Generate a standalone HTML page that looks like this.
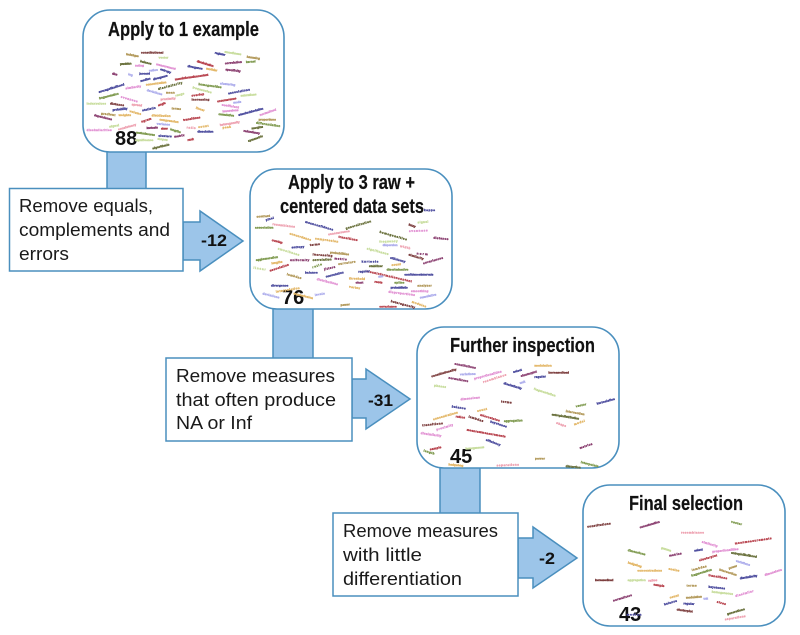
<!DOCTYPE html>
<html><head><meta charset="utf-8"><style>
html,body{margin:0;padding:0;background:#fff}
svg{display:block}
.p{fill:#fff;stroke:#4a8fbe;stroke-width:1.6}
.a{fill:#9cc5e9;stroke:#4a8fbe;stroke-width:1.5}
.x{fill:#fff;stroke:#4a8fbe;stroke-width:1.5}
.t{font:bold 20px "Liberation Sans",sans-serif;fill:#111;stroke:#111;stroke-width:.2}
.n{font:bold 20px "Liberation Sans",sans-serif;fill:#111}
.m{font:bold 17px "Liberation Sans",sans-serif;fill:#111}
.b{font:18.5px "Liberation Sans",sans-serif;fill:#1a1a1a}
.w{font:bold 9px "Liberation Sans",sans-serif;stroke-width:1.3}
.r{fill:#b8444f;stroke:#b8444f}.k{fill:#7d3f3f;stroke:#7d3f3f}.o{fill:#e3b768;stroke:#e3b768}.q{fill:#e294d4;stroke:#e294d4}
.g{fill:#7f9a50;stroke:#7f9a50}.l{fill:#aeaeec;stroke:#aeaeec}.v{fill:#4d4d9e;stroke:#4d4d9e}.u{fill:#8a3f70;stroke:#8a3f70}
.y{fill:#c8dd9e;stroke:#c8dd9e}.s{fill:#eea3b2;stroke:#eea3b2}.c{fill:#b39a5c;stroke:#b39a5c}.d{fill:#686f3a;stroke:#686f3a}
</style></head><body>
<svg xmlns="http://www.w3.org/2000/svg" width="800" height="635" viewBox="0 0 800 635">
<defs><filter id="f" x="0" y="0" width="1" height="1" filterUnits="objectBoundingBox"><feGaussianBlur stdDeviation="0.3"/></filter></defs>
<rect class="a" x="107" y="148" width="39" height="44"/>
<rect class="a" x="273" y="305" width="40" height="56"/>
<rect class="a" x="440" y="464" width="40" height="52"/>
<path class="a" d="M183 222H200V211L243 241L200 271V260H183Z"/>
<path class="a" d="M352 379H366V369L410 399L366 429V418H352Z"/>
<path class="a" d="M518 538H533V527L577 558L533 588V578H518Z"/>
<rect class="p" x="83" y="10" width="201" height="142" rx="27"/>
<rect class="p" x="250" y="169" width="202" height="140" rx="27"/>
<rect class="p" x="417" y="327" width="202" height="141" rx="27"/>
<rect class="p" x="583" y="485" width="202" height="141" rx="27"/>
<rect class="x" x="9.5" y="188.5" width="173.5" height="82.5"/>
<rect class="x" x="166" y="358" width="186" height="83"/>
<rect class="x" x="333" y="513" width="185" height="83"/>

<text class="n" x="115" y="145">88</text>
<text class="n" x="282" y="304">76</text>
<text class="n" x="450" y="463">45</text>
<text class="n" x="619" y="621">43</text>

<g filter="url(#f)">
<g class="w" transform="translate(80 0) scale(.3333)">
<text class="c" transform="translate(138 165)rotate(10)" textLength="38">technique</text>
<text class="k" transform="translate(183 160)" textLength="67">constitutional</text>
<text class="y" transform="translate(236 176)" textLength="29">vector</text>
<text class="d" transform="translate(120 195)rotate(-3)" textLength="35">precision</text>
<text class="q" transform="translate(165 200)" textLength="27">rating</text>
<text class="d" transform="translate(180 186)rotate(14)" textLength="35">balance</text>
<text class="q" transform="translate(228 195)rotate(14)" textLength="60">measurement</text>
<text class="v" transform="translate(322 201)rotate(10)" textLength="46">divergence</text>
<text class="o" transform="translate(378 208)rotate(11)" textLength="34">modular</text>
<text class="r" transform="translate(350 186)rotate(17)" textLength="52">discrimination</text>
<text class="v" transform="translate(404 161)rotate(12)" textLength="32">register</text>
<text class="y" transform="translate(433 158)rotate(9)" textLength="51">smoothness</text>
<text class="c" transform="translate(500 173)rotate(8)" textLength="40">hamming</text>
<text class="u" transform="translate(435 193)rotate(-5)" textLength="51">correlation</text>
<text class="g" transform="translate(498 189)rotate(-4)" textLength="29">kernel</text>
<text class="u" transform="translate(436 211)rotate(7)" textLength="46">specificity</text>
<text class="u" transform="translate(96 223)rotate(14)" textLength="16">dice</text>
<text class="l" transform="translate(144 225)rotate(16)" textLength="14">log</text>
<text class="v" transform="translate(178 223)" textLength="32">jaccard</text>
<text class="l" transform="translate(207 215)rotate(-6)" textLength="27">ratios</text>
<text class="v" transform="translate(240 210)rotate(18)" textLength="34">entropy</text>
<text class="v" transform="translate(182 246)rotate(-15)" textLength="31">median</text>
<text class="v" transform="translate(220 241)rotate(-15)" textLength="45">divergence</text>
<text class="r" transform="translate(285 241)rotate(-8)" textLength="101">meaninformationcontent</text>
<text class="q" transform="translate(137 268)rotate(-8)" textLength="47">similarity</text>
<text class="o" transform="translate(198 257)rotate(-7)" textLength="62">concentration</text>
<text class="d" transform="translate(235 270)rotate(-15)" textLength="75">dissimilarity</text>
<text class="g" transform="translate(355 255)rotate(8)" textLength="70">homogeneities</text>
<text class="l" transform="translate(420 253)rotate(6)" textLength="46">clustering</text>
<text class="v" transform="translate(57 279)rotate(-17)" textLength="80">averagelikelihood</text>
<text class="g" transform="translate(58 298)rotate(-14)" textLength="60">fragmentation</text>
<text class="q" transform="translate(122 293)rotate(16)" textLength="52">evenness</text>
<text class="l" transform="translate(200 273)rotate(16)" textLength="48">deviations</text>
<text class="c" transform="translate(258 281)" textLength="26">mean</text>
<text class="y" transform="translate(287 290)rotate(-15)" textLength="27">range</text>
<text class="y" transform="translate(337 265)rotate(15)" textLength="59">frequencies</text>
<text class="v" transform="translate(445 283)rotate(-10)" textLength="66">associations</text>
<text class="y" transform="translate(482 290)rotate(-5)" textLength="48">saturations</text>
<text class="r" transform="translate(335 290)rotate(-8)" textLength="38">overlap</text>
<text class="k" transform="translate(335 301)" textLength="53">increasing</text>
<text class="s" transform="translate(242 301)rotate(-4)" textLength="45">proximity</text>
<text class="r" transform="translate(412 307)rotate(-9)" textLength="58">cooccurrence</text>
<text class="l" transform="translate(460 311)rotate(-7)" textLength="24">mode</text>
<text class="y" transform="translate(20 314)" textLength="58">indexvalues</text>
<text class="k" transform="translate(90 313)rotate(8)" textLength="42">distance</text>
<text class="s" transform="translate(155 316)rotate(6)" textLength="31">spread</text>
<text class="r" transform="translate(235 319)rotate(-19)" textLength="24">angle</text>
<text class="c" transform="translate(275 328)rotate(4)" textLength="28">terms</text>
<text class="q" transform="translate(425 317)rotate(9)" textLength="52">coefficient</text>
<text class="v" transform="translate(98 333)rotate(-6)" textLength="45">probability</text>
<text class="v" transform="translate(187 334)rotate(-11)" textLength="41">statistic</text>
<text class="o" transform="translate(347 326)rotate(18)" textLength="27">linear</text>
<text class="q" transform="translate(428 337)rotate(-5)" textLength="48">inversions</text>
<text class="q" transform="translate(540 348)rotate(-19)" textLength="52">normalized</text>
<text class="u" transform="translate(42 348)rotate(14)" textLength="55">dependence</text>
<text class="c" transform="translate(63 343)rotate(7)" textLength="43">gradient</text>
<text class="o" transform="translate(116 348)" textLength="37">weights</text>
<text class="o" transform="translate(148 336)rotate(15)" textLength="36">volume</text>
<text class="g" transform="translate(415 345)rotate(6)" textLength="47">cumulative</text>
<text class="v" transform="translate(476 348)rotate(-15)" textLength="77">standarddeviation</text>
<text class="o" transform="translate(215 349)rotate(2)" textLength="57">distribution</text>
<text class="o" transform="translate(238 361)rotate(8)" textLength="58">compression</text>
<text class="r" transform="translate(185 368)rotate(-18)" textLength="31">ngram</text>
<text class="r" transform="translate(310 363)rotate(-9)" textLength="52">transitions</text>
<text class="c" transform="translate(536 362)" textLength="52">proportions</text>
<text class="g" transform="translate(528 371)rotate(8)" textLength="73">differentiation</text>
<text class="s" transform="translate(420 378)rotate(-9)" textLength="60">heterogeneity</text>
<text class="l" transform="translate(230 374)rotate(4)" textLength="40">variance</text>
<text class="y" transform="translate(88 383)rotate(-9)" textLength="30">signal</text>
<text class="s" transform="translate(115 391)rotate(-15)" textLength="56">consistency</text>
<text class="s" transform="translate(320 385)rotate(4)" textLength="27">ratio</text>
<text class="o" transform="translate(355 384)rotate(-7)" textLength="31">count</text>
<text class="o" transform="translate(428 386)rotate(-7)" textLength="25">peak</text>
<text class="u" transform="translate(200 387)rotate(-3)" textLength="34">kurtosis</text>
<text class="r" transform="translate(243 389)" textLength="20">skew</text>
<text class="g" transform="translate(270 390)rotate(17)" textLength="33">lengths</text>
<text class="q" transform="translate(20 393)" textLength="75">dissimilarities</text>
<text class="u" transform="translate(490 395)rotate(9)" textLength="50">redundancy</text>
<text class="d" transform="translate(515 388)rotate(-8)" textLength="35">margins</text>
<text class="v" transform="translate(352 397)" textLength="48">dissolution</text>
<text class="g" transform="translate(168 400)rotate(8)" textLength="57">mutualscores</text>
<text class="v" transform="translate(235 410)rotate(3)" textLength="40">clusters</text>
<text class="u" transform="translate(283 413)rotate(-9)" textLength="31">matrix</text>
<text class="y" transform="translate(165 423)" textLength="55">significance</text>
<text class="y" transform="translate(232 419)rotate(7)" textLength="31">slopes</text>
<text class="r" transform="translate(323 423)rotate(-9)" textLength="19">rank</text>
<text class="d" transform="translate(505 426)rotate(-19)" textLength="47">symmetric</text>
<text class="d" transform="translate(218 448)rotate(-13)" textLength="52">algorithmic</text>
</g>

<g class="w" transform="translate(245 165) scale(.3333)">
<text class="c" transform="translate(35 158)rotate(-4)" textLength="40">contrast</text>
<text class="v" transform="translate(63 168)rotate(-16)" textLength="25">pixel</text>
<text class="g" transform="translate(30 191)" textLength="55">association</text>
<text class="s" transform="translate(82 180)rotate(7)" textLength="68">resemblance</text>
<text class="v" transform="translate(180 173)rotate(16)" textLength="87">meanconfidence</text>
<text class="d" transform="translate(303 193)rotate(-16)" textLength="79">generalization</text>
<text class="o" transform="translate(133 208)rotate(17)" textLength="67">concordance</text>
<text class="s" transform="translate(250 211)rotate(-9)" textLength="65">cooccurrence</text>
<text class="r" transform="translate(280 218)rotate(10)" textLength="58">transitions</text>
<text class="o" transform="translate(210 223)rotate(8)" textLength="70">compression</text>
<text class="d" transform="translate(403 203)rotate(16)" textLength="85">homogeneities</text>
<text class="y" transform="translate(403 233)rotate(-2)" textLength="55">frequency</text>
<text class="l" transform="translate(413 243)" textLength="45">dispersion</text>
<text class="k" transform="translate(490 181)rotate(18)" textLength="22">fuzzy</text>
<text class="y" transform="translate(518 175)rotate(-4)" textLength="32">signal</text>
<text class="q" transform="translate(492 201)rotate(-2)" textLength="56">evenness</text>
<text class="v" transform="translate(537 138)" textLength="33">kappa</text>
<text class="u" transform="translate(565 221)rotate(5)" textLength="45">distance</text>
<text class="r" transform="translate(80 228)rotate(14)" textLength="33">overlap</text>
<text class="v" transform="translate(140 250)rotate(-3)" textLength="38">entropy</text>
<text class="k" transform="translate(195 243)rotate(-6)" textLength="30">terms</text>
<text class="y" transform="translate(98 253)rotate(17)" textLength="67">smoothness</text>
<text class="s" transform="translate(465 246)rotate(13)" textLength="31">width</text>
<text class="y" transform="translate(365 253)rotate(15)" textLength="67">significance</text>
<text class="k" transform="translate(203 271)rotate(4)" textLength="59">increasing</text>
<text class="c" transform="translate(255 265)rotate(6)" textLength="57">probabilities</text>
<text class="k" transform="translate(490 271)rotate(17)" textLength="47">similarity</text>
<text class="u" transform="translate(515 268)rotate(5)" textLength="33">norm</text>
<text class="u" transform="translate(535 298)rotate(-16)" textLength="62">covariances</text>
<text class="v" transform="translate(435 281)rotate(15)" textLength="47">efficiency</text>
<text class="g" transform="translate(33 288)rotate(-8)" textLength="67">agglomeration</text>
<text class="u" transform="translate(268 283)rotate(5)" textLength="37">metric</text>
<text class="u" transform="translate(135 288)" textLength="58">uniformity</text>
<text class="d" transform="translate(203 288)rotate(-2)" textLength="57">correlation</text>
<text class="o" transform="translate(80 298)rotate(-9)" textLength="33">lengths</text>
<text class="g" transform="translate(203 310)rotate(-19)" textLength="30">ratio</text>
<text class="c" transform="translate(280 300)rotate(-8)" textLength="52">curvature</text>
<text class="v" transform="translate(350 293)" textLength="50">kurtosis</text>
<text class="y" transform="translate(25 311)rotate(8)" textLength="37">linear</text>
<text class="r" transform="translate(75 320)rotate(-18)" textLength="60">association</text>
<text class="u" transform="translate(238 316)rotate(-13)" textLength="34">jitters</text>
<text class="d" transform="translate(372 306)" textLength="41">stabilizer</text>
<text class="o" transform="translate(440 303)rotate(-6)" textLength="28">count</text>
<text class="g" transform="translate(425 316)" textLength="65">discriminative</text>
<text class="r" transform="translate(365 321)rotate(13)" textLength="138">meaninformationcontent</text>
<text class="v" transform="translate(340 323)rotate(-3)" textLength="35">regular</text>
<text class="v" transform="translate(180 325)" textLength="38">balance</text>
<text class="v" transform="translate(243 338)rotate(-14)" textLength="55">convolution</text>
<text class="v" transform="translate(478 331)" textLength="87">confidenceintervals</text>
<text class="l" transform="translate(400 338)rotate(-8)" textLength="15">sum</text>
<text class="c" transform="translate(125 330)rotate(16)" textLength="45">lambdas</text>
<text class="o" transform="translate(312 343)rotate(2)" textLength="48">threshold</text>
<text class="q" transform="translate(215 345)rotate(14)" textLength="65">distributions</text>
<text class="r" transform="translate(388 353)rotate(7)" textLength="24">roots</text>
<text class="u" transform="translate(332 356)" textLength="23">chart</text>
<text class="g" transform="translate(448 356)" textLength="30">spline</text>
<text class="c" transform="translate(517 365)" textLength="43">analyzer</text>
<text class="o" transform="translate(312 368)rotate(8)" textLength="33">vertex</text>
<text class="v" transform="translate(437 371)" textLength="51">probabilistic</text>
<text class="v" transform="translate(78 365)" textLength="52">divergence</text>
<text class="o" transform="translate(93 383)rotate(-9)" textLength="72">interpolation</text>
<text class="q" transform="translate(498 381)" textLength="52">smoothing</text>
<text class="l" transform="translate(52 388)rotate(14)" textLength="52">deviations</text>
<text class="o" transform="translate(145 388)rotate(14)" textLength="60">transmission</text>
<text class="l" transform="translate(210 393)rotate(-9)" textLength="30">levels</text>
<text class="q" transform="translate(430 383)rotate(7)" textLength="80">disproportions</text>
<text class="l" transform="translate(525 401)rotate(-11)" textLength="50">cumulative</text>
<text class="c" transform="translate(287 423)rotate(-4)" textLength="28">power</text>
<text class="k" transform="translate(437 411)rotate(15)" textLength="75">heterogeneity</text>
<text class="o" transform="translate(500 413)rotate(19)" textLength="45">modules</text>
<text class="r" transform="translate(403 428)" textLength="52">covariance</text>
</g>

<g class="w" transform="translate(415 322) scale(.3333)">
<text class="u" transform="translate(118 128)rotate(11)" textLength="65">constitutions</text>
<text class="k" transform="translate(50 166)rotate(-16)" textLength="78">constitutionality</text>
<text class="l" transform="translate(135 160)rotate(-2)" textLength="47">variations</text>
<text class="q" transform="translate(178 173)rotate(-15)" textLength="85">proportionalities</text>
<text class="u" transform="translate(100 170)rotate(10)" textLength="60">normalizers</text>
<text class="s" transform="translate(205 183)rotate(-18)" textLength="73">resemblance</text>
<text class="v" transform="translate(295 153)rotate(-15)" textLength="27">select</text>
<text class="u" transform="translate(318 165)rotate(-16)" textLength="50">clusterplot</text>
<text class="o" transform="translate(358 133)" textLength="52">modulation</text>
<text class="v" transform="translate(358 168)rotate(-3)" textLength="35">regular</text>
<text class="k" transform="translate(400 154)" textLength="62">increasedload</text>
<text class="y" transform="translate(57 193)rotate(8)" textLength="36">phases</text>
<text class="v" transform="translate(265 186)rotate(17)" textLength="57">dissimilarity</text>
<text class="l" transform="translate(315 186)rotate(-16)" textLength="17">unit</text>
<text class="y" transform="translate(356 203)rotate(18)" textLength="68">fragmentation</text>
<text class="q" transform="translate(137 235)rotate(-6)" textLength="58">dimensions</text>
<text class="k" transform="translate(258 241)rotate(7)" textLength="32">terms</text>
<text class="g" transform="translate(483 256)rotate(-12)" textLength="32">vector</text>
<text class="v" transform="translate(546 248)rotate(-15)" textLength="56">kurtosisline</text>
<text class="v" transform="translate(110 256)rotate(9)" textLength="42">balance</text>
<text class="o" transform="translate(187 270)rotate(-13)" textLength="30">count</text>
<text class="c" transform="translate(452 270)rotate(10)" textLength="57">intersection</text>
<text class="o" transform="translate(55 295)rotate(-16)" textLength="77">concentrations</text>
<text class="r" transform="translate(122 286)rotate(8)" textLength="28">ratios</text>
<text class="k" transform="translate(160 286)rotate(18)" textLength="46">lambdas</text>
<text class="r" transform="translate(195 281)rotate(17)" textLength="61">microstates</text>
<text class="d" transform="translate(410 280)rotate(9)" textLength="83">entropicdistribution</text>
<text class="v" transform="translate(225 301)rotate(18)" textLength="52">keystones</text>
<text class="g" transform="translate(267 300)rotate(-2)" textLength="56">aggregation</text>
<text class="o" transform="translate(478 310)rotate(-19)" textLength="34">modal</text>
<text class="k" transform="translate(22 313)rotate(-6)" textLength="62">transitions</text>
<text class="s" transform="translate(423 305)rotate(19)" textLength="31">shape</text>
<text class="q" transform="translate(65 326)rotate(-17)" textLength="52">proximity</text>
<text class="q" transform="translate(17 336)rotate(8)" textLength="62">dissimilarity</text>
<text class="r" transform="translate(155 326)rotate(10)" textLength="118">meanrawmeasurements</text>
<text class="v" transform="translate(212 356)rotate(20)" textLength="46">efficiency</text>
<text class="r" transform="translate(45 385)rotate(-11)" textLength="35">sample</text>
<text class="y" transform="translate(152 383)rotate(-5)" textLength="56">homogeneous</text>
<text class="u" transform="translate(495 381)rotate(-19)" textLength="40">metrics</text>
<text class="g" transform="translate(25 388)rotate(17)" textLength="34">length</text>
<text class="c" transform="translate(360 413)" textLength="30">power</text>
<text class="o" transform="translate(100 430)rotate(5)" textLength="45">hedgehog</text>
<text class="s" transform="translate(245 433)rotate(-2)" textLength="67">separations</text>
<text class="g" transform="translate(497 423)rotate(14)" textLength="54">interpolate</text>
<text class="d" transform="translate(452 435)rotate(6)" textLength="45">distortion</text>
</g>

<g class="w" transform="translate(580 480) scale(.3333)">
<text class="k" transform="translate(22 143)rotate(-8)" textLength="71">constitutions</text>
<text class="u" transform="translate(180 145)rotate(-16)" textLength="62">concatenation</text>
<text class="g" transform="translate(453 128)rotate(14)" textLength="33">vector</text>
<text class="s" transform="translate(303 160)" textLength="69">resemblance</text>
<text class="q" transform="translate(365 188)rotate(16)" textLength="49">similarity</text>
<text class="r" transform="translate(465 193)rotate(-8)" textLength="111">meanmeasurements</text>
<text class="q" transform="translate(397 218)rotate(-6)" textLength="79">proportionalities</text>
<text class="g" transform="translate(143 213)rotate(14)" textLength="54">dimensions</text>
<text class="y" transform="translate(243 206)rotate(17)" textLength="31">gamma</text>
<text class="u" transform="translate(268 230)rotate(-11)" textLength="38">metrics</text>
<text class="v" transform="translate(343 215)rotate(-9)" textLength="26">select</text>
<text class="d" transform="translate(453 221)rotate(9)" textLength="78">entropiclikelihood</text>
<text class="r" transform="translate(358 244)rotate(-16)" textLength="56">clusterplot</text>
<text class="l" transform="translate(467 245)rotate(17)" textLength="44">variations</text>
<text class="o" transform="translate(143 250)rotate(17)" textLength="43">hedgehog</text>
<text class="o" transform="translate(172 274)" textLength="74">concentrations</text>
<text class="o" transform="translate(265 269)rotate(11)" textLength="33">cosine</text>
<text class="c" transform="translate(336 273)rotate(-15)" textLength="46">lambdas</text>
<text class="c" transform="translate(447 268)rotate(-18)" textLength="26">power</text>
<text class="g" transform="translate(335 290)rotate(-17)" textLength="64">fragmentation</text>
<text class="c" transform="translate(417 271)rotate(18)" textLength="55">intersection</text>
<text class="q" transform="translate(555 288)rotate(-18)" textLength="54">dimensions</text>
<text class="r" transform="translate(385 288)rotate(10)" textLength="57">transitions</text>
<text class="v" transform="translate(480 298)rotate(-9)" textLength="53">dissimilarity</text>
<text class="k" transform="translate(45 303)" textLength="55">increasedload</text>
<text class="y" transform="translate(143 303)" textLength="54">aggregation</text>
<text class="s" transform="translate(205 305)rotate(-4)" textLength="27">ratios</text>
<text class="r" transform="translate(220 316)rotate(9)" textLength="33">sample</text>
<text class="c" transform="translate(320 320)" textLength="30">terms</text>
<text class="v" transform="translate(385 323)rotate(6)" textLength="50">keystones</text>
<text class="y" transform="translate(395 338)rotate(6)" textLength="64">homogeneous</text>
<text class="q" transform="translate(467 351)rotate(-16)" textLength="56">dissimilar</text>
<text class="u" transform="translate(100 365)rotate(-17)" textLength="59">normalizers</text>
<text class="o" transform="translate(270 356)rotate(-16)" textLength="28">count</text>
<text class="c" transform="translate(318 356)rotate(-4)" textLength="48">modulation</text>
<text class="l" transform="translate(370 358)" textLength="14">unit</text>
<text class="r" transform="translate(410 368)rotate(15)" textLength="28">sizes</text>
<text class="v" transform="translate(253 376)rotate(-16)" textLength="40">balance</text>
<text class="v" transform="translate(310 373)rotate(3)" textLength="33">regular</text>
<text class="k" transform="translate(290 391)rotate(8)" textLength="48">clusterplot</text>
<text class="d" transform="translate(442 405)rotate(-16)" textLength="55">generations</text>
<text class="s" transform="translate(435 421)rotate(-9)" textLength="63">separations</text>
<text class="v" transform="translate(140 407)" textLength="44">median</text>
</g>
</g>

<text class="t" x="108" y="36" textLength="151" lengthAdjust="spacingAndGlyphs">Apply to 1 example</text>
<text class="t" x="288" y="189" textLength="127" lengthAdjust="spacingAndGlyphs">Apply to 3 raw +</text>
<text class="t" x="280" y="213" textLength="144" lengthAdjust="spacingAndGlyphs">centered data sets</text>
<text class="t" x="450" y="352" textLength="145" lengthAdjust="spacingAndGlyphs">Further inspection</text>
<text class="t" x="629" y="510" textLength="114" lengthAdjust="spacingAndGlyphs">Final selection</text>

<text class="m" x="201" y="246" textLength="26" lengthAdjust="spacingAndGlyphs">-12</text>
<text class="m" x="368" y="406" textLength="25" lengthAdjust="spacingAndGlyphs">-31</text>
<text class="m" x="539" y="564" textLength="16" lengthAdjust="spacingAndGlyphs">-2</text>

<text class="b" x="19" y="212" textLength="134" lengthAdjust="spacingAndGlyphs">Remove equals,</text>
<text class="b" x="19" y="236" textLength="151" lengthAdjust="spacingAndGlyphs">complements and</text>
<text class="b" x="19" y="260" textLength="50" lengthAdjust="spacingAndGlyphs">errors</text>
<text class="b" x="176" y="382" textLength="159" lengthAdjust="spacingAndGlyphs">Remove measures</text>
<text class="b" x="176" y="406" textLength="160" lengthAdjust="spacingAndGlyphs">that often produce</text>
<text class="b" x="176" y="429" textLength="76" lengthAdjust="spacingAndGlyphs">NA or Inf</text>
<text class="b" x="343" y="537" textLength="155" lengthAdjust="spacingAndGlyphs">Remove measures</text>
<text class="b" x="343" y="561" textLength="79" lengthAdjust="spacingAndGlyphs">with little</text>
<text class="b" x="343" y="585" textLength="119" lengthAdjust="spacingAndGlyphs">differentiation</text>
</svg>
</body></html>
